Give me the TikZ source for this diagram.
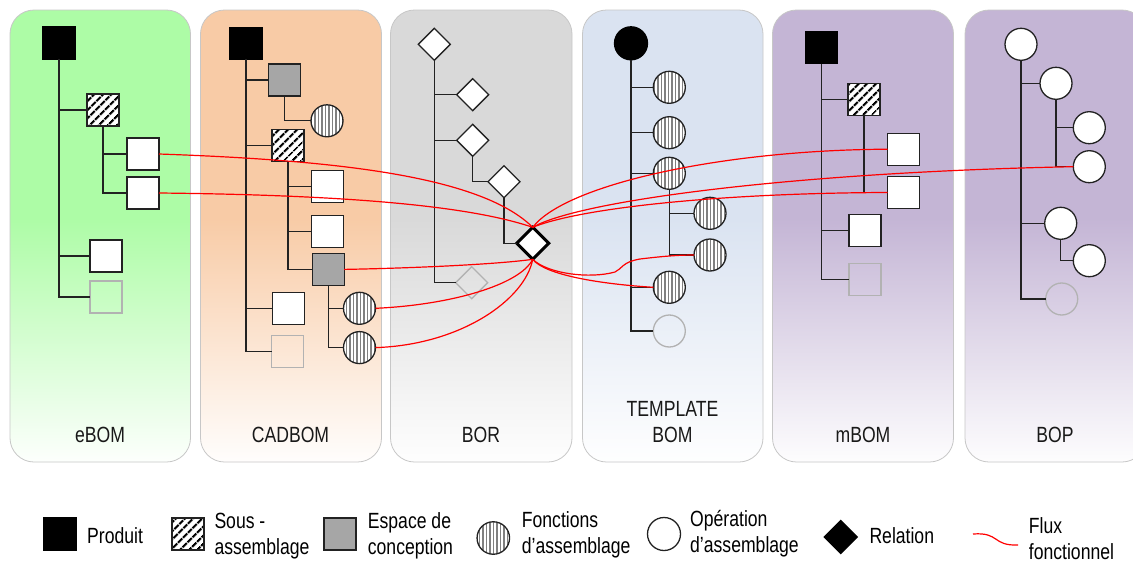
\documentclass[tikz,border=0pt]{standalone}
\usepackage{fontspec}
\setmainfont{Liberation Sans}[FakeStretch=0.8]
\usetikzlibrary{shapes.geometric,patterns.meta}
\definecolor{cE}{HTML}{ADFCA6}
\definecolor{cC}{HTML}{F8CBA6}
\definecolor{cB}{HTML}{D9D9D9}
\definecolor{cT}{HTML}{DAE3F1}
\definecolor{cM}{HTML}{C4B5D5}
\definecolor{treeln}{HTML}{222222}
\pgfdeclareverticalshading{shE}{100bp}{color(0bp)=(cE!3!white); color(25bp)=(cE!3!white); color(52bp)=(cE); color(100bp)=(cE)}
\pgfdeclareverticalshading{shC}{100bp}{color(0bp)=(cC!3!white); color(25bp)=(cC!3!white); color(52bp)=(cC); color(100bp)=(cC)}
\pgfdeclareverticalshading{shB}{100bp}{color(0bp)=(cB!3!white); color(25bp)=(cB!3!white); color(52bp)=(cB); color(100bp)=(cB)}
\pgfdeclareverticalshading{shT}{100bp}{color(0bp)=(cT!3!white); color(25bp)=(cT!3!white); color(52bp)=(cT); color(100bp)=(cT)}
\pgfdeclareverticalshading{shM}{100bp}{color(0bp)=(cM!3!white); color(25bp)=(cM!3!white); color(52bp)=(cM); color(100bp)=(cM)}
\tikzset{
  base/.style={inner sep=0pt, outer sep=0pt, line width=1.3pt, draw=treeln},
  sq/.style={base, rectangle, minimum size=32pt},
  prod/.style={sq, fill=black, draw=black},
  subas/.style={sq, preaction={fill=white}, pattern={Lines[angle=45,distance=6.5pt,line width=2.6pt]}, pattern color=black},
  esp/.style={sq, fill=black!35},
  wsq/.style={sq, fill=white},
  gsq/.style={sq, draw=black!30},
  fct/.style={base, circle, minimum size=32pt, preaction={fill=white}, pattern={Lines[angle=90,distance=3.5pt,line width=1.2pt]}, pattern color=black!50},
  op/.style={base, circle, minimum size=32pt, fill=white},
  blk/.style={base, circle, minimum size=33pt, fill=black, draw=black},
  gop/.style={base, circle, minimum size=32pt, draw=black!30},
  rl/.style={base, diamond, aspect=1, minimum size=32pt, fill=white},
  grl/.style={base, diamond, aspect=1, minimum size=32pt, draw=black!30},
  tree/.style={line width=1.2pt, draw=treeln},
  flux/.style={line width=1.2pt, draw=red},
  panel/.style={draw=black!22, line width=0.8pt, rounded corners=24pt},
  lbl/.style={font=\fontsize{22}{25.5}\selectfont, align=center, inner sep=0pt, text=black!90},
  leg/.style={font=\fontsize{22}{26}\selectfont, align=left, anchor=west, inner sep=0pt},
}
\begin{document}
\begin{tikzpicture}[x=1pt,y=-1pt]
\useasboundingbox (0,0) rectangle (1133,563);
\clip (0,0) rectangle (1133,563);
\fill[white] (0,0) rectangle (1133,563);
% panels
\path[panel, shading=shE] (10,10) rectangle (190.5,462);
\path[panel, shading=shC] (200.5,10) rectangle (381.5,462);
\path[panel, shading=shB] (390.5,10) rectangle (572,462);
\path[panel, shading=shT] (582.5,10) rectangle (763,462);
\path[panel, shading=shM] (772.5,10) rectangle (953.5,462);
\path[panel, shading=shM] (965,10) rectangle (1146,462);
% eBOM
\node[prod] (e0) at (59,43) {};
\node[subas] (e1) at (103,110) {};
\node[wsq] (e11) at (143,154) {};
\node[wsq] (e12) at (143,193) {};
\node[wsq] (e2) at (106,256) {};
\node[gsq] (e3) at (106,297) {};
\draw[tree] (e0.south) |- (e3.west);
\draw[tree] (e0.south |- e1.west) -- (e1.west);
\draw[tree] (e0.south |- e2.west) -- (e2.west);
\draw[tree] (e1.south) |- (e12.west);
\draw[tree] (e1.south |- e11.west) -- (e11.west);
\node[lbl] (le) at (100,435) {eBOM};
% CADBOM
\node[prod] (c0) at (246,43.3) {};
\node[esp] (c1) at (284.3,80) {};
\node[fct] (c1a) at (327,120.8) {};
\node[subas] (c2) at (288,145.6) {};
\node[wsq] (c21) at (327.5,186.6) {};
\node[wsq] (c22) at (327.5,231.7) {};
\node[esp] (c23) at (328.2,269.4) {};
\node[fct] (c231) at (359.5,308.3) {};
\node[fct] (c232) at (359.5,347.6) {};
\node[wsq] (c3) at (288.3,308.2) {};
\node[gsq] (c4) at (287.7,351.6) {};
\draw[tree] (c0.south) |- (c4.west);
\draw[tree] (c0.south |- c1.west) -- (c1.west);
\draw[tree] (c0.south |- c2.west) -- (c2.west);
\draw[tree] (c0.south |- c3.west) -- (c3.west);
\draw[tree] (c1.south) |- (c1a.west);
\draw[tree] (c2.south) |- (c23.west);
\draw[tree] (c2.south |- c21.west) -- (c21.west);
\draw[tree] (c2.south |- c22.west) -- (c22.west);
\draw[tree] (c23.south) |- (c232.west);
\draw[tree] (c23.south |- c231.west) -- (c231.west);
\node[lbl] (lc) at (290.5,435) {CADBOM};
% BOR
\node[rl] (b0) at (434.3,44.3) {};
\node[rl] (b1) at (472.7,94.7) {};
\node[rl] (b2) at (472.7,140.3) {};
\node[rl] (b3) at (504,181.7) {};
\node[rl, line width=3pt, draw=black] (rel) at (532.7,243.3) {};
\node[grl] (b4) at (471.7,282.7) {};
\draw[tree] (b0.south) |- (b4.west);
\draw[tree] (b0.south |- b1.west) -- (b1.west);
\draw[tree] (b0.south |- b2.west) -- (b2.west);
\draw[tree] (b2.south) |- (b3.west);
\draw[tree] (b3.south) |- (rel.west);
\node[lbl] (lb) at (481,435) {BOR};
% TEMPLATE BOM
\node[blk] (t0) at (631,43.3) {};
\node[fct] (t1) at (669.3,87.3) {};
\node[fct] (t2) at (669.3,132.7) {};
\node[fct] (t3) at (669.3,173.3) {};
\node[fct] (t31) at (710,213.3) {};
\node[fct] (t32) at (710,255) {};
\node[fct] (t4) at (669.3,287.3) {};
\node[gop] (t5) at (669.3,331) {};
\draw[tree] (t0.south) |- (t5.west);
\draw[tree] (t0.south |- t1.west) -- (t1.west);
\draw[tree] (t0.south |- t2.west) -- (t2.west);
\draw[tree] (t0.south |- t3.west) -- (t3.west);
\draw[tree] (t0.south |- t4.west) -- (t4.west);
\draw[tree] (t3.south) |- (t32.west);
\draw[tree] (t3.south |- t31.west) -- (t31.west);
\node[lbl] (lt) at (672.5,422) {TEMPLATE\\BOM};
% mBOM
\node[prod] (m0) at (821.5,47.5) {};
\node[subas] (m1) at (864,99.5) {};
\node[wsq] (m11) at (903.5,149.2) {};
\node[wsq] (m12) at (903.5,192.5) {};
\node[wsq] (m2) at (865,230.8) {};
\node[gsq] (m3) at (865,279.2) {};
\draw[tree] (m0.south) |- (m3.west);
\draw[tree] (m0.south |- m1.west) -- (m1.west);
\draw[tree] (m0.south |- m2.west) -- (m2.west);
\draw[tree] (m1.south) |- (m12.west);
\draw[tree] (m1.south |- m11.west) -- (m11.west);
\node[lbl] (lm) at (863,435) {mBOM};
% BOP
\node[op] (p0) at (1021,44.3) {};
\node[op] (p1) at (1056,83.3) {};
\node[op] (p11) at (1089.3,127.7) {};
\node[op] (p12) at (1089.3,166.7) {};
\node[op] (p2) at (1060.7,223.3) {};
\node[op] (p21) at (1089.3,260.7) {};
\node[gop] (p3) at (1061.7,299) {};
\draw[tree] (p0.south) |- (p3.west);
\draw[tree] (p0.south |- p1.west) -- (p1.west);
\draw[tree] (p0.south |- p2.west) -- (p2.west);
\draw[tree] (p1.south) |- (p12.west);
\draw[tree] (p1.south |- p11.west) -- (p11.west);
\draw[tree] (p2.south) |- (p21.west);
\node[lbl] (lp) at (1055,435) {BOP};
% functional flows
\draw[flux] (e11.east) .. controls (330,160) and (480,175) .. (rel.north);
\draw[flux] (e12.east) .. controls (350,195) and (470,206) .. (rel.north);
\draw[flux] (c23.east) .. controls (420,268) and (500,264) .. (rel.south);
\draw[flux] (c231.east) .. controls (450,305) and (520,285) .. (rel.south);
\draw[flux] (c232.east) .. controls (460,345) and (525,300) .. (rel.south);
\draw[flux] (rel.north) .. controls (565,185) and (720,150) .. (m11.west);
\draw[flux] (rel.north) .. controls (580,200) and (800,172) .. (p12.west);
\draw[flux] (rel.north) .. controls (580,208) and (720,193) .. (m12.west);
\draw[flux] (rel.south) .. controls (545,275) and (600,284) .. (t4.west);
\draw[flux] (rel.south) .. controls (548,274) and (590,279) .. (615,272) .. controls (622,269) and (622,262) .. (640,259) .. controls (665,256) and (680,255) .. (t32.west);
% legend
\node[prod] (g1) at (60,534) {};
\node[leg] (g1t) at (87,536) {Produit};
\node[subas] (g2) at (188,534) {};
\node[leg] (g2t) at (214.3,536) {Sous -\\assemblage};
\node[esp] (g3) at (340,534) {};
\node[leg] (g3t) at (367.7,536) {Espace de\\conception};
\node[fct, minimum size=32.5pt] (g4) at (493.3,538) {};
\node[leg] (g4t) at (521.7,535) {Fonctions\\d’assemblage};
\node[op, minimum size=33pt] (g5) at (664,534) {};
\node[leg] (g5t) at (690,534) {Opération\\d’assemblage};
\node[base, diamond, aspect=1, minimum size=33pt, fill=black, draw=black] (g6) at (840.7,537) {};
\node[leg] (g6t) at (869.3,536) {Relation};
\coordinate (g7a) at (973,534);
\coordinate (g7b) at (1018,545);
\draw[flux] (g7a) .. controls (1000,532) and (992,546) .. (g7b);
\node[leg] (g7t) at (1028.7,538.5) {Flux\\fonctionnel};
\end{tikzpicture}
\end{document}
